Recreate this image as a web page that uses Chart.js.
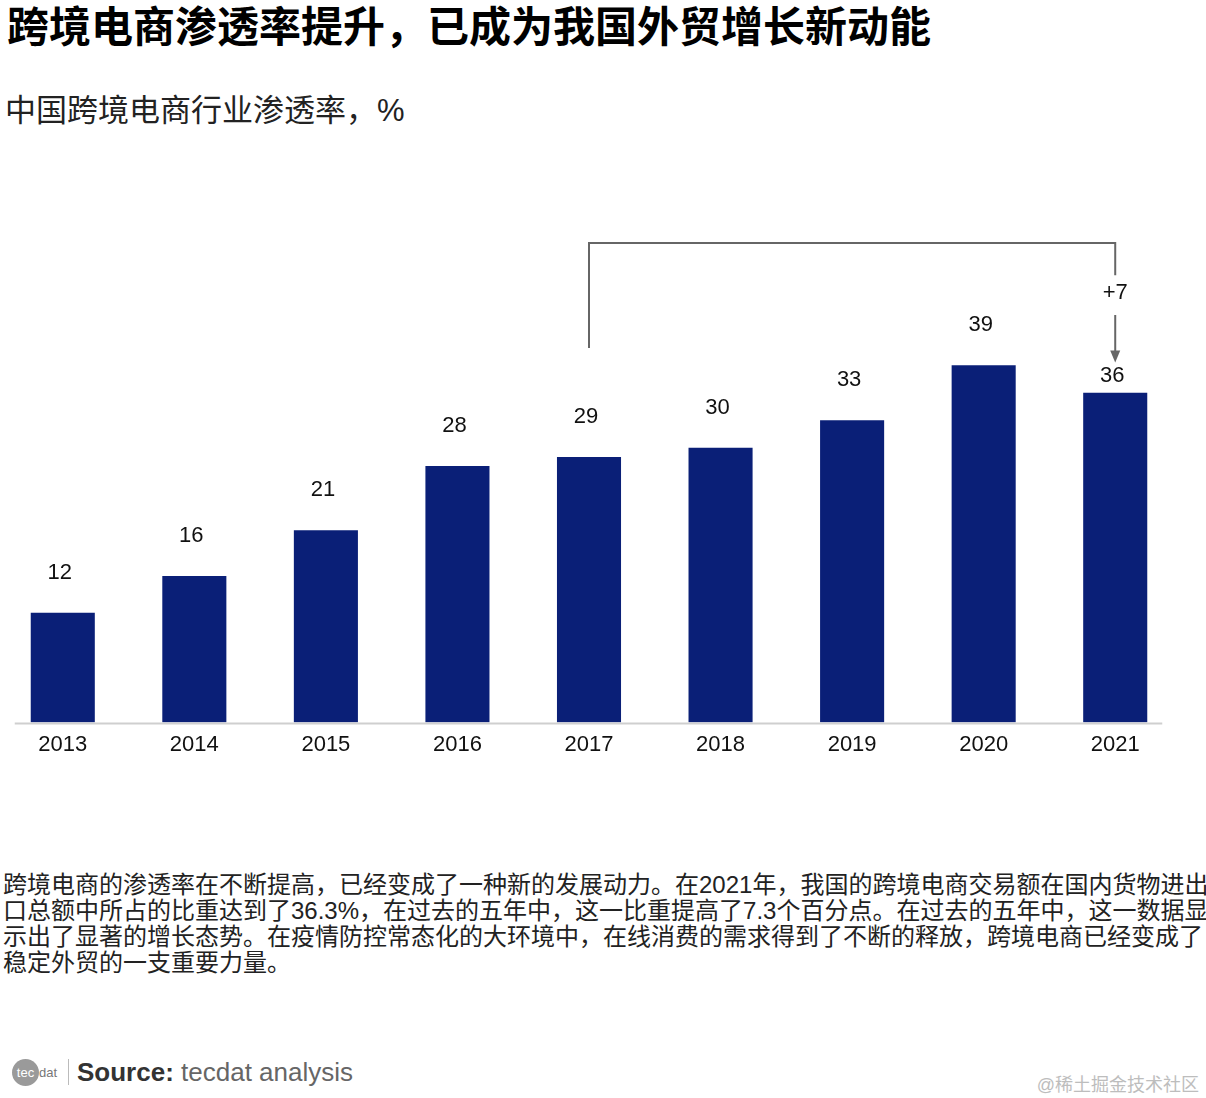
<!DOCTYPE html>
<html>
<head>
<meta charset="utf-8">
<script src="https://cdn.jsdelivr.net/npm/chart.js@4.4.0/dist/chart.umd.min.js"></script>
<style>
  body { margin: 0; background: #fff; width: 1206px; height: 1098px; position: relative; overflow: hidden;
         font-family: "Liberation Sans", "Noto Sans CJK SC", sans-serif; color: #111; }
  #title { position: absolute; left: 7px; top: -7px; font-size: 42px; font-weight: bold; white-space: nowrap; color: #000; }
  #subtitle { position: absolute; left: 5px; top: 85px; font-size: 31px; white-space: nowrap; color: #222; }
  #chartBox { position: absolute; left: -3px; top: 149px; width: 1184px; height: 618px; }
  #para { position: absolute; left: 3px; top: 872px; font-size: 24px; line-height: 26px; color: #222; white-space: nowrap; }
  #source { position: absolute; left: 12px; top: 1055px; height: 34px; display: flex; align-items: center; }
  #logo { width: 27px; height: 27px; border-radius: 50%; background: #9a9a9a; color: #fff; font-size: 13px;
          line-height: 27px; text-align: center; position: relative; }
  #logo span { position: absolute; left: 27px; top: 0; color: #777; font-size: 13px; }
  #sep { width: 1px; height: 26px; background: #bbb; margin-left: 29px; margin-right: 8px; }
  #srcText { font-size: 26px; color: #666; }
  #srcText b { color: #333; }
  #wm { position: absolute; right: 7px; top: 1070px; font-size: 18px; color: #bdbdbd; }
</style>
</head>
<body>
<div id="title">跨境电商渗透率提升，已成为我国外贸增长新动能</div>
<div id="subtitle">中国跨境电商行业渗透率，%</div>
<div id="chartBox"><canvas id="bar-chart"></canvas></div>
<div id="para">
  <div>跨境电商的渗透率在不断提高，已经变成了一种新的发展动力。在2021年，我国的跨境电商交易额在国内货物进出</div>
  <div>口总额中所占的比重达到了36.3%，在过去的五年中，这一比重提高了7.3个百分点。在过去的五年中，这一数据显</div>
  <div>示出了显著的增长态势。在疫情防控常态化的大环境中，在线消费的需求得到了不断的释放，跨境电商已经变成了</div>
  <div>稳定外贸的一支重要力量。</div>
</div>
<div id="source">
  <div id="logo">tec<span>dat</span></div>
  <div id="sep"></div>
  <div id="srcText"><b>Source:</b> tecdat analysis</div>
</div>
<div id="wm">@稀土掘金技术社区</div>

<script>
  var years = ["2013", "2014", "2015", "2016", "2017", "2018", "2019", "2020", "2021"];
  var rates = [12, 16, 21, 28, 29, 30, 33, 39, 36];
  var fromIdx = 4, toIdx = 8;

  // labels over bars, baseline, and the +7 bracket
  var extras = {
    id: "extras",
    afterDatasetsDraw: function(chart) {
      var ctx = chart.ctx;
      var xs = chart.scales.x, ys = chart.scales.y;
      var bars = chart.getDatasetMeta(0).data;
      ctx.save();

      // baseline
      var first = bars[0], last = bars[bars.length - 1];
      ctx.strokeStyle = "#cfcfcf";
      ctx.lineWidth = 2;
      ctx.beginPath();
      ctx.moveTo(first.x - first.width / 2 - 16, chart.chartArea.bottom + 1);
      ctx.lineTo(last.x + last.width / 2 + 15, chart.chartArea.bottom + 1);
      ctx.stroke();

      // value labels
      ctx.fillStyle = "#111";
      ctx.font = "22px 'Liberation Sans', Arial, sans-serif";
      ctx.textAlign = "center";
      ctx.textBaseline = "middle";
      for (var i = 0; i < bars.length; i++) {
        var gap = (i === toIdx) ? 17 : 40;
        ctx.fillText(rates[i], bars[i].x - 3, bars[i].y - gap);
      }

      // bracket
      var x1 = xs.getPixelForValue(fromIdx), x2 = xs.getPixelForValue(toIdx);
      var yTop = ys.getPixelForValue(52.35);
      ctx.strokeStyle = "#666";
      ctx.lineWidth = 2;
      ctx.beginPath();
      ctx.moveTo(x1, ys.getPixelForValue(40.9));
      ctx.lineTo(x1, yTop);
      ctx.lineTo(x2, yTop);
      ctx.lineTo(x2, ys.getPixelForValue(48.85));
      ctx.stroke();

      var delta = rates[toIdx] - rates[fromIdx];
      ctx.fillStyle = "#111";
      ctx.fillText("+" + delta, x2, ys.getPixelForValue(46.9));

      var aTop = ys.getPixelForValue(44.5), aEnd = ys.getPixelForValue(39.3);
      ctx.beginPath();
      ctx.moveTo(x2, aTop);
      ctx.lineTo(x2, aEnd - 10);
      ctx.stroke();
      ctx.fillStyle = "#666";
      ctx.beginPath();
      ctx.moveTo(x2 - 5, aEnd - 12);
      ctx.lineTo(x2 + 5, aEnd - 12);
      ctx.lineTo(x2, aEnd);
      ctx.closePath();
      ctx.fill();
      ctx.restore();
    }
  };

  new Chart(document.getElementById("bar-chart"), {
    type: "bar",
    data: {
      labels: years,
      datasets: [{
        data: rates,
        backgroundColor: "#0a1f77",
        barPercentage: 0.487,
        categoryPercentage: 1.0
      }]
    },
    options: {
      responsive: true,
      maintainAspectRatio: false,
      animation: false,
      layout: { padding: { top: 24, left: 0, right: 0, bottom: 0 } },
      plugins: { legend: { display: false }, tooltip: { enabled: false } },
      scales: {
        x: {
          grid: { display: false, drawTicks: false },
          border: { display: false },
          ticks: { color: "#111", padding: 9, font: { size: 22, family: "'Liberation Sans', Arial, sans-serif" } }
        },
        y: { display: false, min: 0, max: 60 }
      }
    },
    plugins: [extras]
  });
</script>
</body>
</html>
